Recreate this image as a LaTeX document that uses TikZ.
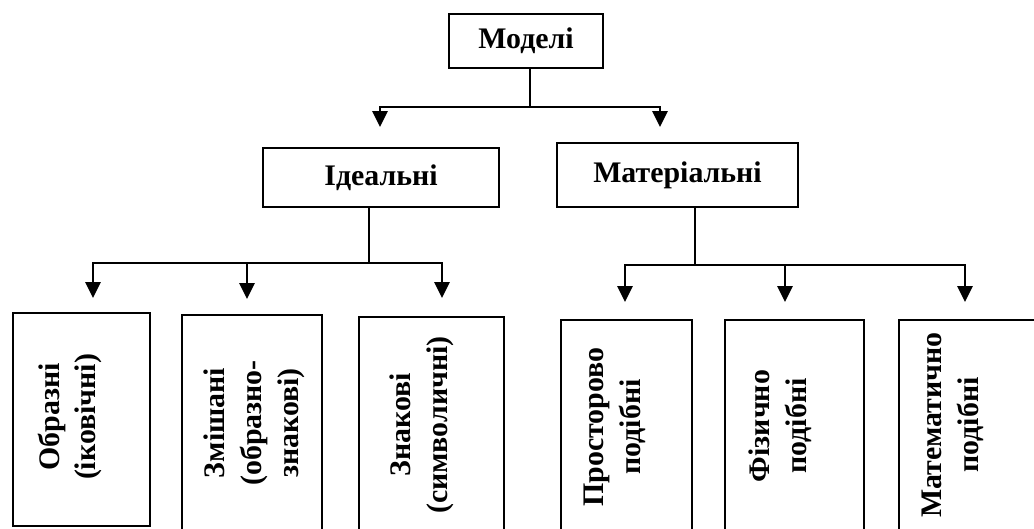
\documentclass[tikz,border=0pt]{standalone}
\usepackage{fontspec}
\setmainfont{Liberation Serif}
\usetikzlibrary{arrows.meta,fit}

\begin{document}
\begin{tikzpicture}[x=0.02cm,y=-0.02cm,
  box/.style={draw,line width=1.2pt,inner sep=0pt},
  htext/.style={inner sep=0pt,font=\fontsize{17}{21}\selectfont\bfseries},
  vtext/.style={rotate=90,align=center,inner sep=0pt,font=\fontsize{17}{21}\selectfont\bfseries},
  link/.style={line width=1.6pt},
  arrow/.style={line width=1.6pt,-{Triangle[length=0.32cm,width=0.3cm]}}
]
\useasboundingbox (0,0) rectangle (1034,528);
\clip (0,0) rectangle (1034,528);
% top levels
\node[box,fit={(449,14) (603,68)}] (mod) {};
\node[box,fit={(263,148) (499,207)}] (ideal) {};
\node[box,fit={(557,143) (798,207)}] (mater) {};
\node[htext] (modt) at (mod.center) {Моделі};
\node[htext] (idealt) at (ideal.center) {Ідеальні};
\node[htext] (matert) at (mater.center) {Матеріальні};
% bottom level
\node[box,fit={(13,313) (150,526)}] (obr) {};
\node[box,fit={(182,315) (322,531)}] (zmi) {};
\node[box,fit={(359,317) (504,531)}] (zna) {};
\node[box,fit={(561,320) (692,531)}] (pro) {};
\node[box,fit={(725,320) (864,531)}] (fiz) {};
\node[box,fit={(899,320) (1045,531)}] (mat) {};
\node[vtext] (obrt) at (70,417) {Образні\\(іковічні)};
\node[vtext] (zmit) at (254,423) {Змішані\\(образно-\\знакові)};
\node[vtext] (znat) at (422,425) {Знакові\\(символичні)};
\node[vtext] (prot) at (615,427) {Просторово\\подібні};
\node[vtext] (fizt) at (780,426) {Фізично\\подібні};
\node[vtext] (matt) at (953,425) {Математично\\подібні};
% junctions and arrow ends
\coordinate (j0) at (530,107);
\coordinate (j1) at (369,263);
\coordinate (j2) at (695,265);
\coordinate (tideal) at (380,127);
\coordinate (tmater) at (660,127);
\coordinate (tobr) at (93,298);
\coordinate (tzmi) at (247,299);
\coordinate (tzna) at (442,298);
\coordinate (tpro) at (625,302);
\coordinate (tfiz) at (785,302);
\coordinate (tmat) at (965,302);
% connectors
\draw[link] (mod.south -| j0) -- (j0);
\draw[arrow] (j0) -| (tideal);
\draw[arrow] (j0) -| (tmater);
\draw[link] (ideal.south -| j1) -- (j1);
\draw[arrow] (j1) -| (tobr);
\draw[arrow] (j1) -| (tzmi);
\draw[arrow] (j1) -| (tzna);
\draw[link] (mater.south -| j2) -- (j2);
\draw[arrow] (j2) -| (tpro);
\draw[arrow] (j2) -| (tfiz);
\draw[arrow] (j2) -| (tmat);
\end{tikzpicture}
\end{document}
